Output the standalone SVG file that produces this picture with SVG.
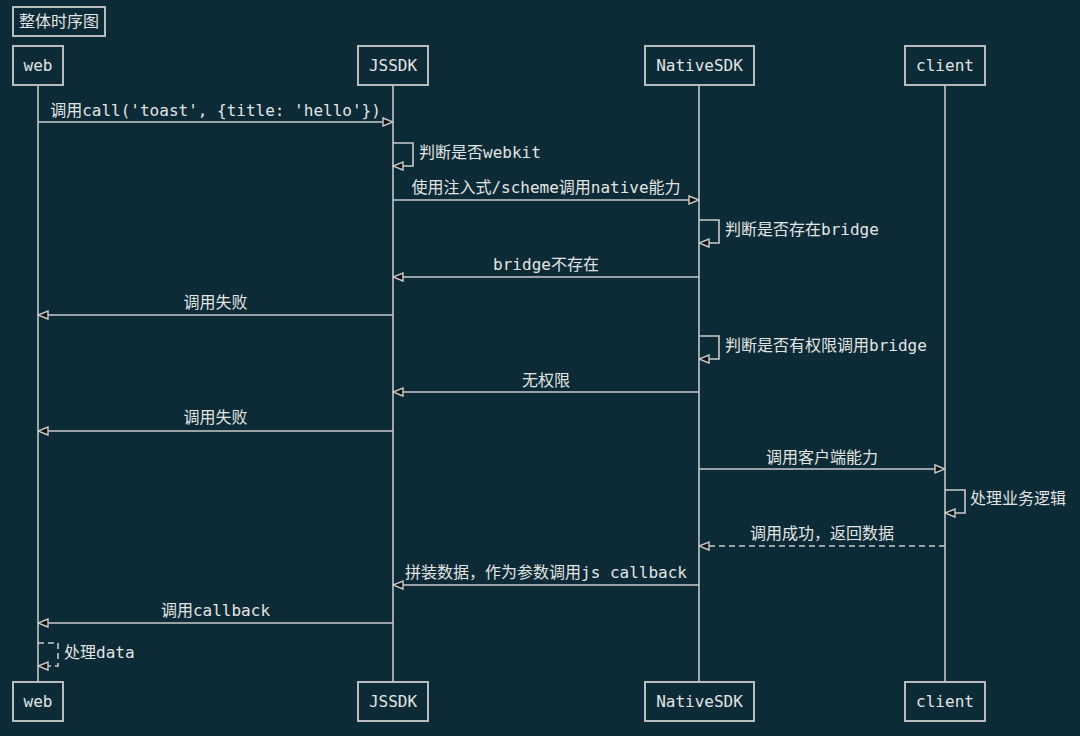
<svg xmlns="http://www.w3.org/2000/svg" width="1080" height="736" viewBox="0 0 1080 736">
<defs>
<style>
text{font-family:"DejaVu Sans Mono","Noto Sans CJK SC",monospace;font-size:16px;fill:#e2e4e4}
.box{fill:#0d2b36;stroke:#b8bcbc;stroke-width:2}
.life{stroke:#c4c6c6;stroke-width:1.6}
.msg{fill:none;stroke:#c8caca;stroke-width:1.6}
.dash{stroke-dasharray:6,4}
.c{text-anchor:middle}
</style>
<marker id="arr" viewBox="0 0 12 10" refX="11" refY="5" markerWidth="12" markerHeight="10" markerUnits="userSpaceOnUse" orient="auto">
<path d="M1,1 L11,5 L1,9 Z" fill="#111" stroke="#c8caca" stroke-width="1.4"/>
</marker>
</defs>
<rect width="1080" height="736" fill="#0d2b36"/>
<g id="title"><rect class="box" x="13" y="7" width="92" height="29"/><text x="59" y="27" class="c">整体时序图</text></g>
<g id="lifelines">
<line class="life" x1="38" y1="85" x2="38" y2="682"/>
<line class="life" x1="393" y1="85" x2="393" y2="682"/>
<line class="life" x1="699" y1="85" x2="699" y2="682"/>
<line class="life" x1="945" y1="85" x2="945" y2="682"/>
</g>
<g id="web"><rect class="box" x="13" y="46" width="50" height="39"/><text x="38" y="71" class="c">web</text>
<rect class="box" x="13" y="682" width="50" height="39"/><text x="38" y="707" class="c">web</text></g>
<g id="jssdk"><rect class="box" x="358" y="46" width="70" height="39"/><text x="393" y="71" class="c">JSSDK</text>
<rect class="box" x="358" y="682" width="70" height="39"/><text x="393" y="707" class="c">JSSDK</text></g>
<g id="nativesdk"><rect class="box" x="645" y="46" width="109" height="39"/><text x="699.5" y="71" class="c">NativeSDK</text>
<rect class="box" x="645" y="682" width="109" height="39"/><text x="699.5" y="707" class="c">NativeSDK</text></g>
<g id="client"><rect class="box" x="905" y="46" width="80" height="39"/><text x="945" y="71" class="c">client</text>
<rect class="box" x="905" y="682" width="80" height="39"/><text x="945" y="707" class="c">client</text></g>
<g id="connectors">
<line class="msg" x1="38" y1="122" x2="393" y2="122" marker-end="url(#arr)"/>
<polyline class="msg" points="393,143 413,143 413,166 393,166" marker-end="url(#arr)"/>
<line class="msg" x1="393" y1="200" x2="699" y2="200" marker-end="url(#arr)"/>
<polyline class="msg" points="699,220 719,220 719,243 699,243" marker-end="url(#arr)"/>
<line class="msg" x1="699" y1="277" x2="393" y2="277" marker-end="url(#arr)"/>
<line class="msg" x1="393" y1="315" x2="38" y2="315" marker-end="url(#arr)"/>
<polyline class="msg" points="699,336 719,336 719,359 699,359" marker-end="url(#arr)"/>
<line class="msg" x1="699" y1="392" x2="393" y2="392" marker-end="url(#arr)"/>
<line class="msg" x1="393" y1="431" x2="38" y2="431" marker-end="url(#arr)"/>
<line class="msg" x1="699" y1="469" x2="945" y2="469" marker-end="url(#arr)"/>
<polyline class="msg" points="945,490 965,490 965,513 945,513" marker-end="url(#arr)"/>
<line class="msg dash" x1="945" y1="546" x2="699" y2="546" marker-end="url(#arr)"/>
<line class="msg" x1="699" y1="585" x2="393" y2="585" marker-end="url(#arr)"/>
<line class="msg" x1="393" y1="623" x2="38" y2="623" marker-end="url(#arr)"/>
<polyline class="msg dash" points="38,643 58,643 58,666 38,666" marker-end="url(#arr)"/>
</g>
<g id="labels">
<text x="215.5" y="116" class="c">调用call('toast', {title: 'hello'})</text>
<text x="419" y="158">判断是否webkit</text>
<text x="546" y="193" class="c">使用注入式/scheme调用native能力</text>
<text x="725" y="235">判断是否存在bridge</text>
<text x="546" y="270" class="c">bridge不存在</text>
<text x="215.5" y="308" class="c">调用失败</text>
<text x="725" y="351">判断是否有权限调用bridge</text>
<text x="546" y="386" class="c">无权限</text>
<text x="215.5" y="423" class="c">调用失败</text>
<text x="822" y="463" class="c">调用客户端能力</text>
<text x="970" y="504">处理业务逻辑</text>
<text x="822" y="539" class="c">调用成功，返回数据</text>
<text x="546" y="578" class="c">拼装数据，作为参数调用js callback</text>
<text x="215.5" y="616" class="c">调用callback</text>
<text x="64" y="658">处理data</text>
</g>
</svg>
